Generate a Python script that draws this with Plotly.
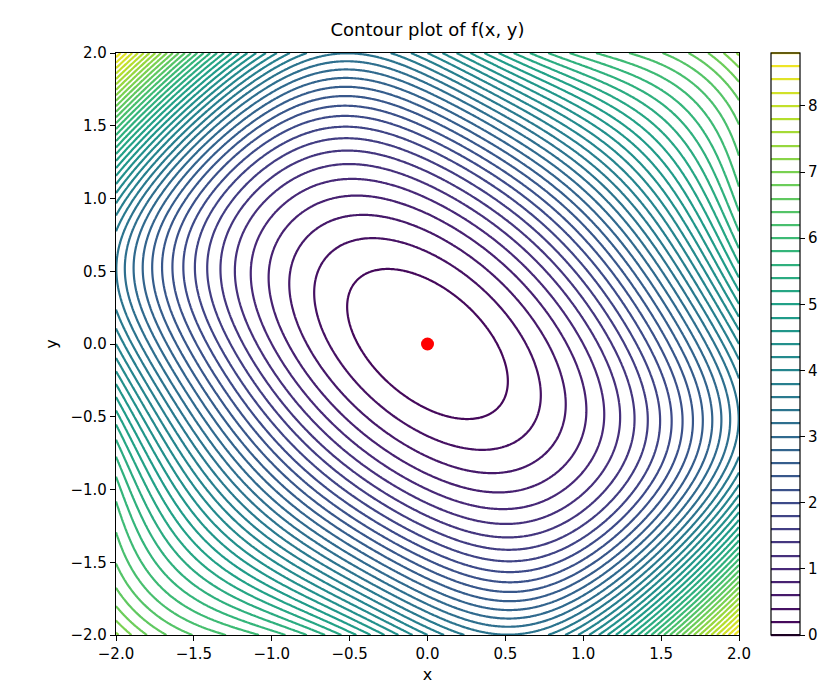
import numpy as np
import plotly.graph_objects as go

# grid of the plotted function f(x, y) = x^2 + y^2 + sin(x*y)
x_vals = np.linspace(-2.0, 2.0, 401)
y_vals = np.linspace(-2.0, 2.0, 401)
X, Y = np.meshgrid(x_vals, y_vals)
z_vals = X**2 + Y**2 + np.sin(X * Y)

level_start = 0.0
level_end = 8.8
level_step = 0.2

min_point_x = [0.0]
min_point_y = [0.0]

tick_vals = [-2.0, -1.5, -1.0, -0.5, 0.0, 0.5, 1.0, 1.5, 2.0]
tick_text = ["\u22122.0", "\u22121.5", "\u22121.0", "\u22120.5", "0.0", "0.5", "1.0", "1.5", "2.0"]
cbar_ticks = [0, 1, 2, 3, 4, 5, 6, 7, 8]

FONT = "DejaVu Sans"

fig = go.Figure()
fig.add_trace(go.Contour(
    x=x_vals, y=y_vals, z=z_vals,
    colorscale="Viridis",
    zmin=level_start, zmax=level_end,
    autocontour=False,
    contours=dict(coloring="lines", start=level_start, end=level_end, size=level_step),
    line=dict(width=2.2, smoothing=0.8),
    colorbar=dict(
        x=1.052, xanchor="left", xref="paper",
        y=0.5, yanchor="middle", len=1.0, lenmode="fraction",
        thickness=29, thicknessmode="pixels",
        outlinewidth=1.2, outlinecolor="black",
        tickmode="array", tickvals=cbar_ticks,
        ticks="outside", ticklen=5, tickcolor="black",
        tickfont=dict(family=FONT, size=15, color="black"),
        xpad=0, ypad=0,
    ),
    hoverinfo="skip",
))
fig.add_trace(go.Scatter(
    x=min_point_x, y=min_point_y, mode="markers",
    marker=dict(color="red", size=13, line=dict(width=0)),
    showlegend=False,
))

axis_common = dict(
    range=[-2, 2], tickmode="array", tickvals=tick_vals, ticktext=tick_text,
    showline=True, linecolor="black", linewidth=1.2, mirror=True,
    ticks="outside", ticklen=5, tickcolor="black",
    showgrid=False, zeroline=False,
    tickfont=dict(family=FONT, size=15, color="black"),
)
fig.update_xaxes(**axis_common, title=dict(text="x", font=dict(family=FONT, size=16, color="black"), standoff=6))
fig.update_yaxes(**axis_common, title=dict(text="y", font=dict(family=FONT, size=16, color="black"), standoff=8))

fig.update_layout(
    width=830, height=693,
    margin=dict(l=108, r=99, t=45, b=66),
    paper_bgcolor="white", plot_bgcolor="white",
    title=dict(text="Contour plot of f(x, y)", x=(108 + 731) / 2 / 830, xanchor="center",
               y=1 - 22 / 693, yanchor="middle",
               font=dict(family=FONT, size=18, color="black")),
    showlegend=False,
)

fig.write_html("out.html")
